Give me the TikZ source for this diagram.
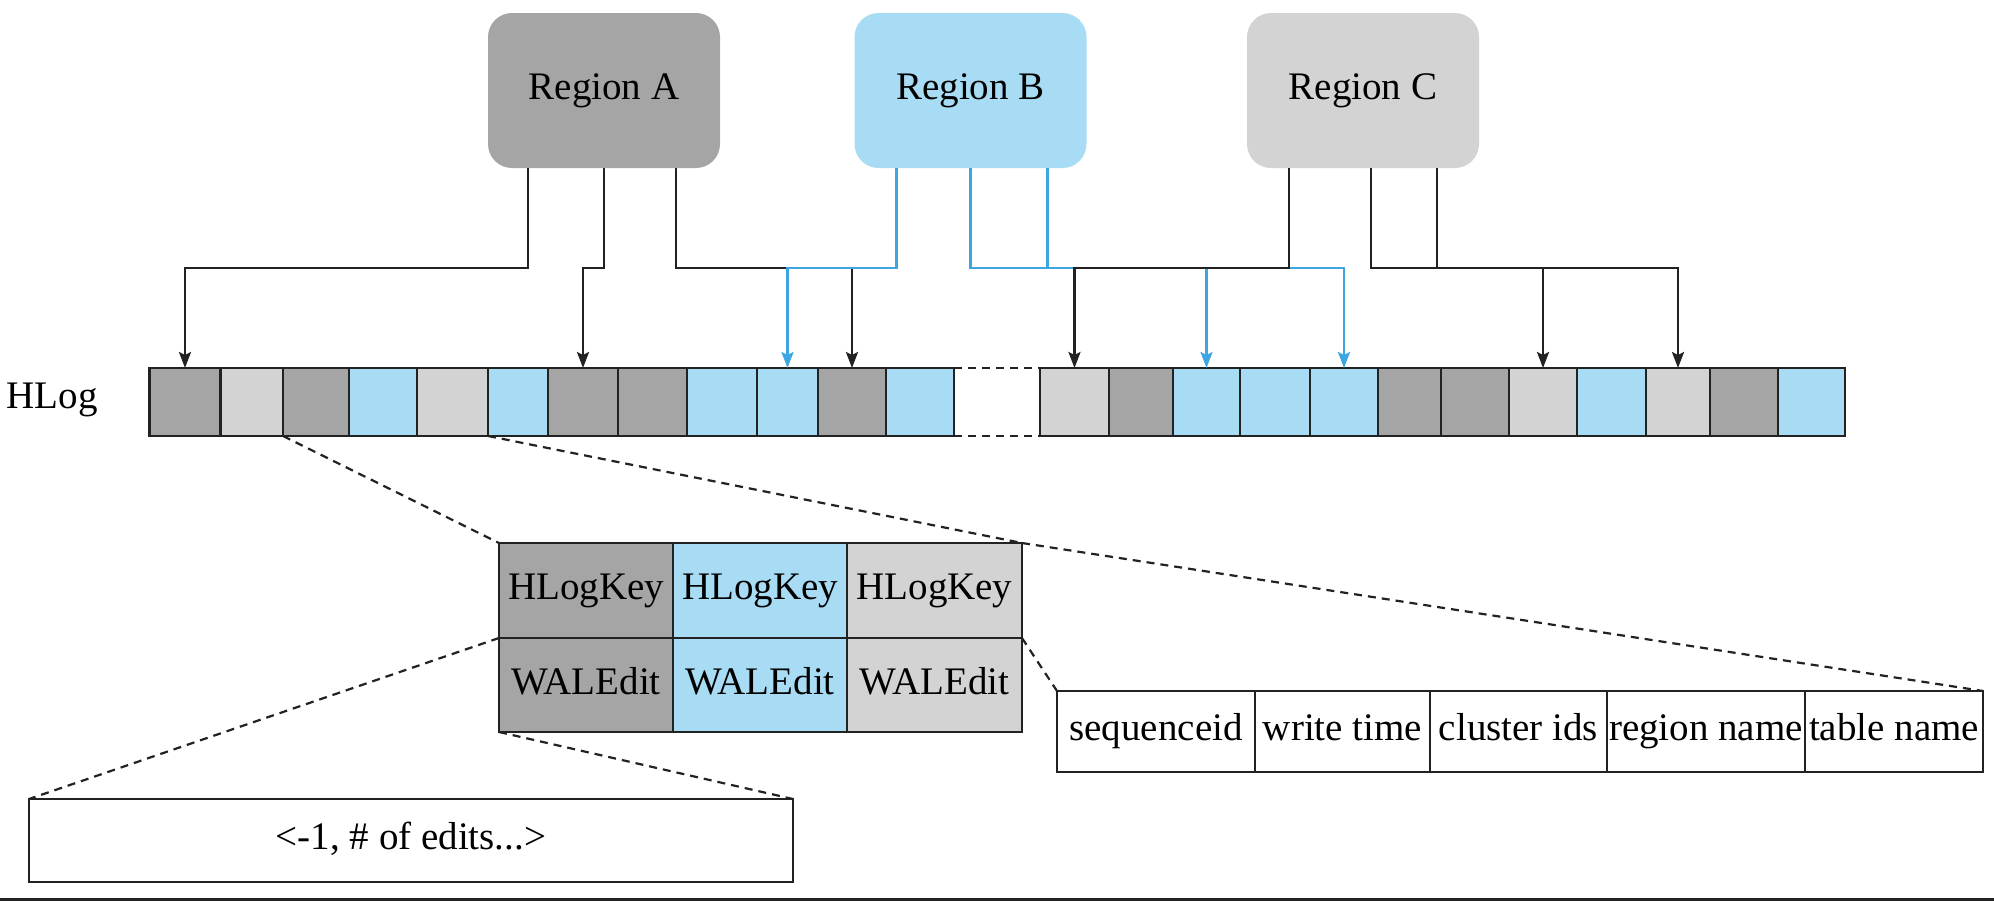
\documentclass[tikz,border=0pt]{standalone}
\usepackage{fontspec}
\setmainfont{Liberation Serif}
\usetikzlibrary{arrows.meta,calc}
\definecolor{dk}{HTML}{A5A5A5}
\definecolor{lt}{HTML}{D3D3D3}
\definecolor{bl}{HTML}{A8DCF4}
\definecolor{bline}{HTML}{3DA5DF}
\definecolor{ln}{HTML}{222222}
\begin{document}
\begin{tikzpicture}[x=0.5pt,y=-0.5pt,
  lbl/.style={font=\fontsize{19.5}{23}\selectfont},
  region/.style={lbl, rounded corners=12pt, minimum width=116pt, minimum height=77.5pt, inner sep=0pt, outer sep=0pt, text height=13pt, text depth=4pt},
  cell/.style={draw=ln, line width=1.1pt, minimum height=34pt, inner sep=0pt, outer sep=0pt},
  tcell/.style={lbl, draw=ln, line width=1.1pt, inner sep=0pt, outer sep=0pt, text height=13pt, text depth=4pt},
  tipk/.style={-{Stealth[length=8pt,width=6pt,inset=1.5pt]}},
  conn/.style={line width=1.25pt, draw=ln, tipk},
  bconn/.style={line width=1.25pt, draw=bline, tipk},
  jn/.style={line width=1.25pt, draw=ln},
  bjn/.style={line width=1.25pt, draw=bline},
  zoomline/.style={draw=ln, line width=1.1pt, dash pattern=on 4pt off 3pt}
]
\useasboundingbox (0,0) rectangle (1994,902);

% regions
\node[region, fill=dk] (rA) at (604,90.5) {Region A};
\node[region, fill=bl] (rB) at (970.5,90.5) {Region B};
\node[region, fill=lt] (rC) at (1363,90.5) {Region C};

% HLog label
\node[lbl, inner sep=0pt, anchor=east] (hl) at (98,400) {HLog};

% HLog cells
\foreach \l/\r/\c [count=\i] in {149.5/220.5/dk, 220.5/283/lt, 283/349/dk, 349/417/bl, 417/488/lt, 488/548/bl, 548/618/dk, 618/687/dk, 687/757/bl, 757/818/bl, 818/886/dk, 886/954/bl, 1040/1109/lt, 1109/1173/dk, 1173/1240/bl, 1240/1310/bl, 1310/1378/bl, 1378/1441/dk, 1441/1509/dk, 1509/1577/lt, 1577/1646/bl, 1646/1710/lt, 1710/1778/dk, 1778/1845/bl}
  \node[cell, fill=\c, minimum width={(\r-\l)*0.5pt}] (h\i) at ({(\l+\r)/2},402) {};

% gap
\draw[zoomline] (h12.north east) -- (h13.north west);
\draw[zoomline] (h12.south east) -- (h13.south west);

% Region A connectors
\draw[conn] ($(rA.south west)+(40,0)$) -- ++(0,100) -| (h1.north);
\draw[conn] ($(rA.south west)+(116,0)$) -- ++(0,100) -| (h7.north);
\draw[conn] ($(rA.south west)+(188,0)$) -- ++(0,100) -| (h11.north);

% Region B connectors
\draw[bconn] ($(rB.south west)+(42,0)$) -- ++(0,100) -| (h10.north);
\draw[bconn] ($(rB.south west)+(116,0)$) -- ++(0,100) -| (h17.north);
\draw[bjn] ($(rB.south west)+(193,0)$) -- ++(0,100);
\draw[bconn] (h15.north |- 0,268) -- (h15.north);

% Region C connectors
\draw[conn] ($(rC.south west)+(42,0)$) -- ++(0,100) -| (h13.north);
\draw[conn] ($(rC.south west)+(124,0)$) -- ++(0,100) -| (h22.north);
\draw[jn] ($(rC.south west)+(190,0)$) -- ++(0,100);
\draw[conn] (h20.north |- 0,268) -- (h20.north);

% table
\node[tcell, fill=dk, minimum width=87pt, minimum height=47.5pt] (k1) at (586,590.5) {HLogKey};
\node[tcell, fill=bl, minimum width=87pt, minimum height=47.5pt] (k2) at (760,590.5) {HLogKey};
\node[tcell, fill=lt, minimum width=87.5pt, minimum height=47.5pt] (k3) at (934.5,590.5) {HLogKey};
\node[tcell, fill=dk, minimum width=87pt, minimum height=47pt] (w1) at (586,685) {WALEdit};
\node[tcell, fill=bl, minimum width=87pt, minimum height=47pt] (w2) at (760,685) {WALEdit};
\node[tcell, fill=lt, minimum width=87.5pt, minimum height=47pt] (w3) at (934.5,685) {WALEdit};

% key fields
\node[tcell, minimum width=99pt, minimum height=40.5pt] (f1) at (1156,731.5) {sequenceid};
\node[tcell, minimum width=87.5pt, minimum height=40.5pt] (f2) at (1342.5,731.5) {write time};
\node[tcell, minimum width=88.5pt, minimum height=40.5pt] (f3) at (1518.5,731.5) {cluster ids};
\node[tcell, minimum width=99pt, minimum height=40.5pt] (f4) at (1706,731.5) {region name};
\node[tcell, minimum width=89pt, minimum height=40.5pt] (f5) at (1894,731.5) {table name};

% edits box
\node[tcell, minimum width=382pt, minimum height=41.5pt] (ed) at (411,840.5) {<-1, \# of edits...>};

% zoom lines
\draw[zoomline] (h3.south west) -- (k1.north west);
\draw[zoomline] (h6.south west) -- (k3.north east);
\draw[zoomline] (k3.north east) -- (f5.north east);
\draw[zoomline] (w3.north east) -- (f1.north west);
\draw[zoomline] (w1.north west) -- (ed.north west);
\draw[zoomline] (w1.south west) -- (ed.north east);

% bottom rule
\draw[line width=1.5pt, ln] (0,899.5) -- (1994,899.5);
\end{tikzpicture}
\end{document}
